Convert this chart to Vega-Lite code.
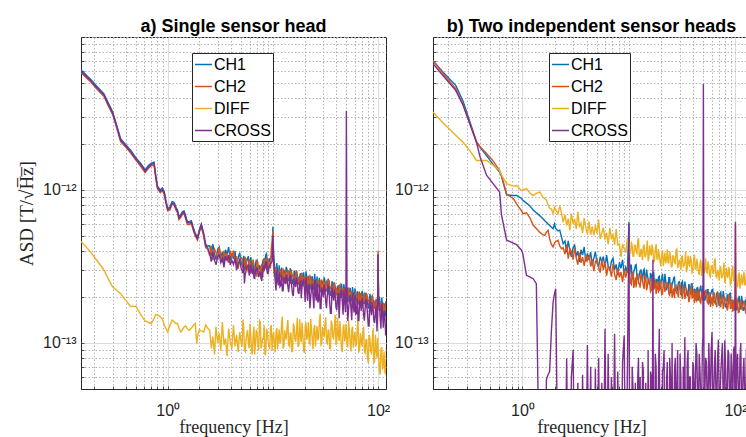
{
"$schema": "https://vega.github.io/schema/vega-lite/v6.json",
"background": "white",
"padding": {"left": 17, "top": 17, "right": 0, "bottom": 0},
"bounds": "flush",
"spacing": 47,
"config": {"view": {"stroke": "#262626", "strokeWidth": 1}, "font": "Liberation Sans"},
"resolve": {"scale": {"color": "independent"}, "legend": {"color": "independent"}},
"datasets": {
"a": [
{"f":0.15,"c1":61,"c2":58.5,"d":4.6,"x":59.8},
{"f":0.17,"c1":56,"c2":53.8,"d":4.2,"x":54.9},
{"f":0.185,"c1":53,"c2":50.9,"d":3.93,"x":51.9},
{"f":0.21,"c1":48,"c2":46.1,"d":3.5,"x":47},
{"f":0.248,"c1":42.5,"c2":40.8,"d":3.0,"x":41.7},
{"f":0.27,"c1":37.5,"c2":36,"d":2.65,"x":36.8},
{"f":0.3,"c1":32.4,"c2":31.1,"d":2.32,"x":31.8},
{"f":0.33,"c1":26,"c2":25,"d":2.2,"x":25.5},
{"f":0.357,"c1":21.6,"c2":20.7,"d":2.1,"x":21.2},
{"f":0.4,"c1":19.8,"c2":19,"d":1.9,"x":19.4},
{"f":0.444,"c1":18.2,"c2":17.5,"d":1.73,"x":17.8},
{"f":0.5,"c1":16.2,"c2":15.6,"d":1.74,"x":15.9},
{"f":0.55,"c1":15,"c2":14.4,"d":1.55,"x":14.7},
{"f":0.596,"c1":13.9,"c2":13.3,"d":1.42,"x":13.6},
{"f":0.61,"c1":13.5,"c2":13,"d":1.4,"x":13.2},
{"f":0.66,"c1":14.5,"c2":13.9,"d":1.36,"x":14.2},
{"f":0.7,"c1":15,"c2":14.4,"d":1.34,"x":14.7},
{"f":0.742,"c1":15.2,"c2":14.6,"d":1.45,"x":14.9},
{"f":0.77,"c1":12.5,"c2":12,"d":1.53,"x":12.3},
{"f":0.8,"c1":10.6,"c2":10.2,"d":1.53,"x":10.4},
{"f":0.85,"c1":10,"c2":9.6,"d":1.48,"x":9.8},
{"f":0.89,"c1":10.3,"c2":9.9,"d":1.44,"x":10.1},
{"f":0.93,"c1":9.7,"c2":9.3,"d":1.3,"x":9.5},
{"f":0.96,"c1":8.6,"c2":8.3,"d":1.25,"x":8.4},
{"f":1,"c1":7.6,"c2":7.3,"d":1.18,"x":7.45},
{"f":1.05,"c1":7.7,"c2":7.4,"d":1.3,"x":7.55},
{"f":1.1,"c1":8.4,"c2":8.1,"d":1.41,"x":8.2},
{"f":1.15,"c1":8.3,"c2":8,"d":1.38,"x":8.1},
{"f":1.2,"c1":7.7,"c2":7.4,"d":1.34,"x":7.55},
{"f":1.24,"c1":7.4,"c2":7.1,"d":1.34,"x":7.25},
{"f":1.28,"c1":6.7,"c2":6.4,"d":1.25,"x":6.55},
{"f":1.33,"c1":6.9,"c2":6.6,"d":1.18,"x":6.75},
{"f":1.38,"c1":7.2,"c2":6.9,"d":1.22,"x":7.05},
{"f":1.43,"c1":7.3,"c2":7,"d":1.27,"x":7.15},
{"f":1.48,"c1":6.8,"c2":6.5,"d":1.29,"x":6.65},
{"f":1.54,"c1":6.2,"c2":5.95,"d":1.24,"x":6.1},
{"f":1.6,"c1":6.2,"c2":5.95,"d":1.21,"x":6.1},
{"f":1.68,"c1":6.3,"c2":6.05,"d":1.25,"x":6.15},
{"f":1.75,"c1":5.7,"c2":5.45,"d":1.3,"x":5.6},
{"f":1.83,"c1":5.2,"c2":5,"d":1.34,"x":5.1},
{"f":1.89,"c1":5,"c2":4.8,"d":0.99,"x":4.9},
{"f":1.92,"c1":4.9,"c2":4.7,"d":1.1,"x":4.8},
{"f":2,"c1":5.5,"c2":5.3,"d":1.22,"x":5.4},
{"f":2.09,"c1":6,"c2":5.75,"d":1.2,"x":5.9},
{"f":2.2,"c1":5.2,"c2":5,"d":1.18,"x":5.1},
{"f":2.3,"c1":4.4,"c2":4.2,"d":1.31,"x":4.3},
{"f":2.4,"c1":4.3,"c2":4.1,"d":1.25,"x":4.2},
{"f":2.51,"c1":4.32,"c2":3.72,"d":1.21,"x":3.84},
{"f":2.6,"c1":3.72,"c2":4.31,"d":0.92,"x":3.4},
{"f":2.69,"c1":4.42,"c2":3.48,"d":1.1,"x":3.95},
{"f":2.79,"c1":3.83,"c2":4.1,"d":0.84,"x":3.48},
{"f":2.88,"c1":3.51,"c2":3.9,"d":1.28,"x":3.24},
{"f":2.99,"c1":4.1,"c2":3.52,"d":1.0,"x":3.67},
{"f":3.09,"c1":4.24,"c2":4.23,"d":1.16,"x":3.77},
{"f":3.2,"c1":3.62,"c2":3.66,"d":0.89,"x":3.35},
{"f":3.31,"c1":3.93,"c2":3.36,"d":1.37,"x":3.58},
{"f":3.43,"c1":3.34,"c2":4.02,"d":0.97,"x":3.12},
{"f":3.55,"c1":4.07,"c2":3.5,"d":1.07,"x":3.69},
{"f":3.67,"c1":3.76,"c2":3.87,"d":0.82,"x":3.46},
{"f":3.8,"c1":4.24,"c2":3.34,"d":1.24,"x":3.75},
{"f":3.94,"c1":3.45,"c2":4.01,"d":1.02,"x":3.23},
{"f":4.07,"c1":3.85,"c2":3.59,"d":0.91,"x":3.48},
{"f":4.22,"c1":3.55,"c2":4.02,"d":1.31,"x":3.26},
{"f":4.37,"c1":3.98,"c2":3.33,"d":0.95,"x":3.58},
{"f":4.52,"c1":3.2,"c2":3.7,"d":1.13,"x":2.99},
{"f":4.68,"c1":3.59,"c2":3.06,"d":0.87,"x":3.27},
{"f":4.84,"c1":3.89,"c2":3.53,"d":1.18,"x":3.47},
{"f":5.01,"c1":3.28,"c2":3.62,"d":0.99,"x":3.04},
{"f":5.19,"c1":3.09,"c2":3.2,"d":1.42,"x":2.86},
{"f":5.37,"c1":3.55,"c2":2.95,"d":0.9,"x":2.45},
{"f":5.56,"c1":3.3,"c2":3.56,"d":1.05,"x":2.97},
{"f":5.75,"c1":3.56,"c2":3.07,"d":1.21,"x":3.17},
{"f":5.96,"c1":3.02,"c2":3.5,"d":0.92,"x":2.76},
{"f":6.17,"c1":3.64,"c2":2.87,"d":1.1,"x":3.25},
{"f":6.38,"c1":3.1,"c2":3.32,"d":0.84,"x":2.82},
{"f":6.61,"c1":2.88,"c2":3.2,"d":1.28,"x":2.66},
{"f":6.84,"c1":3.31,"c2":2.84,"d":1.0,"x":2.96},
{"f":7.08,"c1":3.47,"c2":3.46,"d":1.16,"x":3.09},
{"f":7.33,"c1":2.91,"c2":2.95,"d":0.89,"x":2.7},
{"f":7.59,"c1":3.16,"c2":2.7,"d":1.37,"x":2.88},
{"f":7.85,"c1":2.73,"c2":3.28,"d":0.97,"x":2.54},
{"f":8.13,"c1":3.53,"c2":3.04,"d":1.07,"x":3.2},
{"f":8.41,"c1":3.37,"c2":3.47,"d":0.83,"x":3.09},
{"f":8.71,"c1":3.84,"c2":3.03,"d":1.24,"x":3.4},
{"f":9.02,"c1":3.04,"c2":3.52,"d":1.02,"x":2.84},
{"f":9.33,"c1":3.54,"c2":3.3,"d":0.91,"x":3.2},
{"f":9.66,"c1":3.65,"c2":4.13,"d":1.31,"x":3.34},
{"f":10,"c1":5.75,"c2":5.4,"d":1.1,"x":5.05},
{"f":10.35,"c1":3.27,"c2":2.73,"d":0.99,"x":2.94},
{"f":10.72,"c1":2.63,"c2":3.04,"d":1.19,"x":2.2},
{"f":11.09,"c1":2.93,"c2":2.5,"d":0.91,"x":2.58},
{"f":11.48,"c1":3.22,"c2":2.93,"d":1.23,"x":2.87},
{"f":11.89,"c1":2.71,"c2":2.99,"d":1.03,"x":2.37},
{"f":12.3,"c1":2.59,"c2":2.68,"d":1.49,"x":2.19},
{"f":12.74,"c1":2.97,"c2":2.47,"d":0.95,"x":2.66},
{"f":13.18,"c1":2.8,"c2":3.02,"d":1.1,"x":2.42},
{"f":13.65,"c1":3.02,"c2":2.61,"d":1.27,"x":2.67},
{"f":14.13,"c1":2.56,"c2":2.96,"d":0.97,"x":2.15},
{"f":14.62,"c1":3.08,"c2":2.43,"d":1.16,"x":2.78},
{"f":15.14,"c1":2.67,"c2":2.86,"d":0.88,"x":2.31},
{"f":15.67,"c1":2.43,"c2":2.7,"d":1.34,"x":2.03},
{"f":16.22,"c1":2.84,"c2":2.43,"d":1.05,"x":2.51},
{"f":16.79,"c1":2.97,"c2":2.96,"d":1.21,"x":2.66},
{"f":17.38,"c1":2.49,"c2":2.52,"d":0.94,"x":2.15},
{"f":17.99,"c1":2.7,"c2":2.31,"d":1.43,"x":2.39},
{"f":18.62,"c1":2.33,"c2":2.8,"d":1.01,"x":1.96},
{"f":19.28,"c1":2.78,"c2":2.4,"d":1.12,"x":2.52},
{"f":19.95,"c1":2.57,"c2":2.65,"d":0.86,"x":2.26},
{"f":20.65,"c1":2.94,"c2":2.32,"d":1.36,"x":2.68},
{"f":21.38,"c1":2.35,"c2":2.72,"d":1.12,"x":1.89},
{"f":22.13,"c1":2.65,"c2":2.47,"d":1.0,"x":2.3},
{"f":22.91,"c1":2.4,"c2":2.72,"d":1.44,"x":1.98},
{"f":23.71,"c1":2.73,"c2":2.28,"d":1.04,"x":2.45},
{"f":24.55,"c1":2.23,"c2":2.57,"d":1.24,"x":1.68},
{"f":25.41,"c1":2.47,"c2":2.11,"d":0.95,"x":2.11},
{"f":26.3,"c1":2.72,"c2":2.47,"d":1.29,"x":2.45},
{"f":27.23,"c1":2.33,"c2":2.57,"d":1.08,"x":1.91},
{"f":28.18,"c1":2.18,"c2":2.26,"d":1.55,"x":1.68},
{"f":29.17,"c1":2.54,"c2":2.12,"d":0.99,"x":2.26},
{"f":30.2,"c1":2.4,"c2":2.59,"d":1.15,"x":1.99},
{"f":31.26,"c1":2.54,"c2":2.19,"d":1.32,"x":2.23},
{"f":32.36,"c1":2.19,"c2":2.53,"d":1.01,"x":1.69},
{"f":33.5,"c1":2.63,"c2":2.07,"d":1.21,"x":2.4},
{"f":34.67,"c1":2.23,"c2":2.39,"d":0.92,"x":1.84},
{"f":35.89,"c1":2.07,"c2":2.3,"d":1.4,"x":1.56},
{"f":37.15,"c1":2.42,"c2":2.07,"d":1.09,"x":2.12},
{"f":38.46,"c1":2.48,"c2":2.47,"d":1.27,"x":2.23},
{"f":39.81,"c1":2.12,"c2":2.14,"d":0.98,"x":1.71},
{"f":41.21,"c1":2.3,"c2":1.96,"d":1.46,"x":1.98},
{"f":42.66,"c1":1.94,"c2":2.33,"d":1.03,"x":1.45},
{"f":44.16,"c1":2.35,"c2":2.03,"d":1.14,"x":2.13},
{"f":45.71,"c1":2.18,"c2":2.24,"d":0.87,"x":1.85},
{"f":47.32,"c1":2.43,"c2":1.92,"d":1.32,"x":2.21},
{"f":48.98,"c1":1.98,"c2":2.3,"d":1.09,"x":1.59},
{"f":50,"c1":2.3,"c2":2.2,"d":1.2,"x":33},
{"f":50.7,"c1":2.24,"c2":2.09,"d":0.97,"x":1.94},
{"f":52.48,"c1":2.02,"c2":2.28,"d":1.4,"x":1.66},
{"f":54.33,"c1":2.29,"c2":1.91,"d":1.01,"x":2.06},
{"f":56.23,"c1":1.87,"c2":2.16,"d":1.21,"x":1.41},
{"f":58.21,"c1":2.07,"c2":1.77,"d":0.93,"x":1.76},
{"f":60.26,"c1":2.28,"c2":2.07,"d":1.18,"x":2.05},
{"f":62.37,"c1":1.9,"c2":2.1,"d":0.99,"x":1.56},
{"f":64.57,"c1":1.82,"c2":1.88,"d":1.42,"x":1.4},
{"f":66.83,"c1":2.12,"c2":1.76,"d":0.9,"x":1.88},
{"f":69.18,"c1":1.95,"c2":2.1,"d":1.05,"x":1.62},
{"f":71.61,"c1":2.11,"c2":1.82,"d":1.15,"x":1.85},
{"f":74.13,"c1":1.81,"c2":2.1,"d":0.88,"x":1.4},
{"f":76.74,"c1":2.13,"c2":1.68,"d":1.05,"x":1.94},
{"f":79.43,"c1":1.84,"c2":1.97,"d":0.8,"x":1.52},
{"f":82.22,"c1":1.71,"c2":1.9,"d":1.13,"x":1.29},
{"f":85.11,"c1":1.94,"c2":1.67,"d":0.88,"x":1.7},
{"f":88.1,"c1":2.04,"c2":2.03,"d":1.02,"x":1.83},
{"f":91.2,"c1":1.74,"c2":1.76,"d":0.74,"x":1.41},
{"f":94.41,"c1":1.84,"c2":1.57,"d":1.13,"x":1.58},
{"f":97.72,"c1":1.58,"c2":1.91,"d":0.8,"x":1.19},
{"f":100,"c1":3.8,"c2":4.0,"d":0.9,"x":3.8},
{"f":101.2,"c1":1.93,"c2":1.66,"d":0.82,"x":1.75},
{"f":104.7,"c1":1.73,"c2":1.78,"d":0.62,"x":1.47},
{"f":108.4,"c1":1.98,"c2":1.56,"d":0.94,"x":1.8},
{"f":112.2,"c1":1.56,"c2":1.82,"d":0.72,"x":1.26},
{"f":116.1,"c1":1.77,"c2":1.65,"d":0.64,"x":1.53},
{"f":120.2,"c1":1.58,"c2":1.79,"d":0.93,"x":1.3},
{"f":5.1,"c1":3.28,"c2":3.58,"d":0.95,"x":2.97},
{"f":5.28,"c1":3.71,"c2":3.03,"d":1.26,"x":3.32},
{"f":5.46,"c1":3.02,"c2":3.61,"d":0.88,"x":2.8},
{"f":5.66,"c1":3.43,"c2":3.04,"d":1.16,"x":3.14},
{"f":5.85,"c1":3.7,"c2":2.88,"d":1.0,"x":3.27},
{"f":6.06,"c1":3.02,"c2":3.44,"d":1.34,"x":2.86},
{"f":6.28,"c1":3.19,"c2":3.06,"d":0.9,"x":2.99},
{"f":6.49,"c1":3.42,"c2":3.51,"d":1.1,"x":3.09},
{"f":6.72,"c1":2.85,"c2":3.17,"d":0.84,"x":2.64},
{"f":6.96,"c1":3.47,"c2":2.78,"d":1.22,"x":3.1},
{"f":7.2,"c1":3.02,"c2":3.36,"d":0.98,"x":2.82},
{"f":7.46,"c1":3.19,"c2":2.89,"d":1.4,"x":2.91},
{"f":7.72,"c1":2.82,"c2":3.16,"d":0.92,"x":2.64},
{"f":7.99,"c1":3.35,"c2":2.67,"d":1.07,"x":3.01},
{"f":8.27,"c1":3.1,"c2":3.59,"d":1.3,"x":3.0},
{"f":8.56,"c1":3.77,"c2":3.1,"d":0.86,"x":3.38},
{"f":8.86,"c1":3.13,"c2":3.57,"d":1.18,"x":2.86},
{"f":9.18,"c1":3.33,"c2":3.14,"d":0.96,"x":3.07},
{"f":9.49,"c1":3.6,"c2":3.07,"d":1.25,"x":3.26},
{"f":9.83,"c1":3.7,"c2":4.53,"d":0.89,"x":3.42},
{"f":10.17,"c1":3.78,"c2":3.18,"d":1.18,"x":3.37},
{"f":10.53,"c1":2.91,"c2":3.09,"d":0.87,"x":2.54},
{"f":10.91,"c1":3.33,"c2":2.72,"d":1.25,"x":2.99},
{"f":11.28,"c1":2.61,"c2":2.9,"d":1.06,"x":2.38},
{"f":11.68,"c1":2.76,"c2":3.01,"d":0.99,"x":2.33},
{"f":12.1,"c1":3.11,"c2":2.54,"d":1.32,"x":2.79},
{"f":12.51,"c1":2.57,"c2":3.07,"d":0.92,"x":2.19},
{"f":12.96,"c1":2.91,"c2":2.58,"d":1.21,"x":2.65},
{"f":13.41,"c1":3.14,"c2":2.44,"d":1.05,"x":2.8},
{"f":13.89,"c1":2.6,"c2":2.96,"d":1.41,"x":2.34},
{"f":14.38,"c1":2.7,"c2":2.59,"d":0.95,"x":2.46},
{"f":14.87,"c1":2.94,"c2":3.02,"d":1.16,"x":2.65},
{"f":15.4,"c1":2.45,"c2":2.72,"d":0.88,"x":2.08},
{"f":15.94,"c1":2.97,"c2":2.38,"d":1.28,"x":2.67},
{"f":16.5,"c1":2.59,"c2":2.88,"d":1.02,"x":2.32},
{"f":17.08,"c1":2.78,"c2":2.51,"d":1.46,"x":2.51},
{"f":17.68,"c1":2.41,"c2":2.7,"d":0.97,"x":2.09},
{"f":18.3,"c1":2.86,"c2":2.29,"d":1.12,"x":2.57},
{"f":18.94,"c1":2.49,"c2":2.88,"d":1.36,"x":2.33},
{"f":19.61,"c1":2.89,"c2":2.37,"d":0.9,"x":2.63},
{"f":20.3,"c1":2.39,"c2":2.73,"d":1.29,"x":1.85},
{"f":21.01,"c1":2.63,"c2":2.47,"d":1.05,"x":2.31},
{"f":21.75,"c1":2.7,"c2":2.3,"d":1.37,"x":2.42},
{"f":22.51,"c1":2.24,"c2":2.75,"d":0.98,"x":1.68},
{"f":23.31,"c1":2.63,"c2":2.21,"d":1.23,"x":2.3},
{"f":24.12,"c1":2.43,"c2":2.57,"d":0.91,"x":2.0},
{"f":24.98,"c1":2.83,"c2":2.3,"d":1.31,"x":2.58},
{"f":25.85,"c1":2.21,"c2":2.45,"d":1.1,"x":1.89},
{"f":26.76,"c1":2.33,"c2":2.55,"d":1.04,"x":1.84},
{"f":27.7,"c1":2.67,"c2":2.18,"d":1.38,"x":2.4},
{"f":28.67,"c1":2.16,"c2":2.59,"d":0.97,"x":1.68},
{"f":29.68,"c1":2.5,"c2":2.21,"d":1.27,"x":2.23},
{"f":30.73,"c1":2.69,"c2":2.09,"d":1.09,"x":2.42},
{"f":31.8,"c1":2.19,"c2":2.49,"d":1.47,"x":1.86},
{"f":32.92,"c1":2.3,"c2":2.21,"d":0.99,"x":2.04},
{"f":34.08,"c1":2.51,"c2":2.58,"d":1.21,"x":2.26},
{"f":35.27,"c1":2.05,"c2":2.28,"d":0.92,"x":1.56},
{"f":36.51,"c1":2.53,"c2":2.03,"d":1.33,"x":2.3},
{"f":37.8,"c1":2.21,"c2":2.46,"d":1.07,"x":1.89},
{"f":39.13,"c1":2.32,"c2":2.09,"d":1.53,"x":2.05},
{"f":40.5,"c1":2.05,"c2":2.29,"d":0.99,"x":1.64},
{"f":41.93,"c1":2.38,"c2":1.9,"d":1.14,"x":2.13},
{"f":43.4,"c1":2.07,"c2":2.39,"d":1.39,"x":1.87},
{"f":44.93,"c1":2.44,"c2":2.01,"d":0.92,"x":2.24},
{"f":46.51,"c1":1.98,"c2":2.25,"d":1.25,"x":1.53},
{"f":48.14,"c1":2.17,"c2":2.04,"d":1.02,"x":1.91},
{"f":49.5,"c1":2.28,"c2":1.94,"d":1.33,"x":2.04},
{"f":51.58,"c1":1.85,"c2":2.26,"d":0.95,"x":1.39},
{"f":53.39,"c1":2.21,"c2":1.85,"d":1.2,"x":1.93},
{"f":55.27,"c1":2.04,"c2":2.16,"d":0.88,"x":1.68},
{"f":57.21,"c1":2.32,"c2":1.89,"d":1.28,"x":2.11},
{"f":59.22,"c1":1.85,"c2":2.05,"d":1.08,"x":1.58},
{"f":61.31,"c1":1.95,"c2":2.13,"d":0.95,"x":1.54},
{"f":63.46,"c1":2.18,"c2":1.78,"d":1.26,"x":1.96},
{"f":65.69,"c1":1.8,"c2":2.16,"d":0.88,"x":1.4},
{"f":67.99,"c1":2.08,"c2":1.84,"d":1.16,"x":1.86},
{"f":70.38,"c1":2.18,"c2":1.7,"d":0.95,"x":1.97},
{"f":72.86,"c1":1.81,"c2":2.06,"d":1.28,"x":1.54},
{"f":75.42,"c1":1.91,"c2":1.83,"d":0.86,"x":1.7},
{"f":78.07,"c1":2.03,"c2":2.09,"d":1.05,"x":1.82},
{"f":80.81,"c1":1.69,"c2":1.88,"d":0.74,"x":1.29},
{"f":83.65,"c1":2.09,"c2":1.68,"d":1.08,"x":1.9},
{"f":86.59,"c1":1.78,"c2":1.98,"d":0.86,"x":1.52},
{"f":89.63,"c1":1.91,"c2":1.72,"d":1.24,"x":1.68},
{"f":92.79,"c1":1.68,"c2":1.89,"d":0.77,"x":1.35},
{"f":96.05,"c1":1.94,"c2":1.55,"d":0.89,"x":1.75},
{"f":99,"c1":1.69,"c2":1.96,"d":1.08,"x":1.53},
{"f":102.9,"c1":2.0,"c2":1.64,"d":0.66,"x":1.84},
{"f":106.5,"c1":1.61,"c2":1.84,"d":0.9,"x":1.24},
{"f":110.3,"c1":1.77,"c2":1.66,"d":0.67,"x":1.56},
{"f":114.1,"c1":1.8,"c2":1.53,"d":0.88,"x":1.62},
{"f":118.1,"c1":1.5,"c2":1.83,"d":0.63,"x":1.12}
],
"b": [
{"f":0.1445,"c1":70,"c2":70,"d":32.4,"x":67},
{"f":0.179,"c1":59,"c2":58,"d":27.5,"x":56},
{"f":0.236,"c1":48.3,"c2":46,"d":22.8,"x":44.8},
{"f":0.277,"c1":38,"c2":36,"d":20.5,"x":35.8},
{"f":0.332,"c1":26,"c2":25.5,"d":17.5,"x":25.2},
{"f":0.37,"c1":20.6,"c2":20.6,"d":15.6,"x":20.5},
{"f":0.4,"c1":19,"c2":19.2,"d":15.6,"x":16.4},
{"f":0.46,"c1":16.8,"c2":17.3,"d":15.6,"x":12.5},
{"f":0.53,"c1":14.7,"c2":15.5,"d":14.5,"x":11},
{"f":0.61,"c1":13.1,"c2":13.4,"d":13.4,"x":9.7},
{"f":0.635,"c1":12.3,"c2":12.5,"d":12.5,"x":6.9},
{"f":0.71,"c1":9.3,"c2":9.4,"d":11,"x":4.7},
{"f":0.82,"c1":9.2,"c2":8.8,"d":10.6,"x":4.5},
{"f":0.88,"c1":9.2,"c2":8.1,"d":10.7,"x":4.4},
{"f":0.98,"c1":8.8,"c2":7.3,"d":9.9,"x":4.04},
{"f":1.01,"c1":8.55,"c2":7,"d":10,"x":3.8},
{"f":1.09,"c1":8.2,"c2":7.1,"d":10.2,"x":2.77},
{"f":1.17,"c1":7.9,"c2":6.6,"d":9.6,"x":2.7},
{"f":1.26,"c1":7.4,"c2":5.9,"d":9.2,"x":2.63},
{"f":1.35,"c1":7.1,"c2":5.6,"d":9.5,"x":2.44},
{"f":1.45,"c1":6.8,"c2":5.3,"d":9.7,"x":0.1},
{"f":1.55,"c1":6.5,"c2":5.1,"d":9,"x":0.1},
{"f":1.62,"c1":6.3,"c2":5.05,"d":8.8,"x":0.1},
{"f":1.68,"c1":6.16,"c2":5.3,"d":8.55,"x":0.58},
{"f":1.74,"c1":6,"c2":5.45,"d":8,"x":0.62},
{"f":1.8,"c1":5.85,"c2":4.8,"d":7.6,"x":0.65},
{"f":1.87,"c1":5.7,"c2":4.4,"d":7.5,"x":1.2},
{"f":1.94,"c1":5.58,"c2":4.24,"d":7,"x":1.85},
{"f":2,"c1":6,"c2":4.5,"d":7.7,"x":2.1},
{"f":2.05,"c1":5.6,"c2":4.6,"d":7.4,"x":2.26},
{"f":2.16,"c1":5.4,"c2":4.69,"d":7,"x":0.1},
{"f":2.24,"c1":5.46,"c2":4.3,"d":7.9,"x":0.1},
{"f":2.33,"c1":4.9,"c2":4.13,"d":7,"x":0.1},
{"f":2.41,"c1":4.46,"c2":4.2,"d":6.16,"x":0.1},
{"f":2.51,"c1":4.64,"c2":3.8,"d":6.87,"x":0.1},
{"f":2.6,"c1":3.91,"c2":4.4,"d":5.86,"x":0.79},
{"f":2.69,"c1":4.65,"c2":3.56,"d":6.49,"x":0.1},
{"f":2.79,"c1":3.98,"c2":4.13,"d":5.46,"x":0.1},
{"f":2.88,"c1":3.65,"c2":3.93,"d":7.01,"x":0.6},
{"f":2.99,"c1":4.2,"c2":3.5,"d":6.01,"x":0.9},
{"f":3.09,"c1":4.35,"c2":4.2,"d":6.47,"x":0.1},
{"f":3.2,"c1":3.67,"c2":3.59,"d":5.55,"x":0.1},
{"f":3.31,"c1":3.98,"c2":3.25,"d":7.2,"x":0.55},
{"f":3.43,"c1":3.39,"c2":3.89,"d":5.7,"x":0.1},
{"f":3.55,"c1":4.07,"c2":3.34,"d":6.06,"x":0.1},
{"f":3.67,"c1":3.76,"c2":3.64,"d":5.22,"x":0.62},
{"f":3.8,"c1":4.24,"c2":3.19,"d":6.55,"x":0.1},
{"f":3.94,"c1":3.4,"c2":3.76,"d":5.68,"x":0.1},
{"f":4.07,"c1":3.85,"c2":3.42,"d":5.15,"x":0.97},
{"f":4.22,"c1":3.5,"c2":3.77,"d":6.21,"x":0.1},
{"f":4.37,"c1":3.92,"c2":3.16,"d":5.08,"x":0.7},
{"f":4.52,"c1":3.2,"c2":3.52,"d":5.78,"x":0.1},
{"f":4.68,"c1":3.59,"c2":2.95,"d":5.04,"x":0.1},
{"f":4.84,"c1":3.94,"c2":3.4,"d":5.89,"x":0.68},
{"f":5.01,"c1":3.33,"c2":3.53,"d":5.18,"x":0.1},
{"f":5.19,"c1":3.14,"c2":3.12,"d":6.41,"x":0.8},
{"f":5.37,"c1":3.66,"c2":2.88,"d":4.78,"x":0.1},
{"f":5.56,"c1":3.4,"c2":3.52,"d":5.2,"x":0.55},
{"f":5.75,"c1":3.67,"c2":2.99,"d":5.67,"x":0.1},
{"f":5.96,"c1":3.12,"c2":3.41,"d":4.74,"x":1.24},
{"f":6.17,"c1":3.75,"c2":2.75,"d":5.25,"x":0.1},
{"f":6.38,"c1":3.2,"c2":3.18,"d":4.4,"x":0.85},
{"f":6.61,"c1":2.97,"c2":3.06,"d":5.65,"x":0.1},
{"f":6.84,"c1":3.41,"c2":2.71,"d":4.75,"x":0.6},
{"f":7.08,"c1":3.58,"c2":3.3,"d":5.19,"x":0.1},
{"f":7.33,"c1":3.01,"c2":2.81,"d":4.37,"x":1.15},
{"f":7.59,"c1":3.26,"c2":2.58,"d":5.55,"x":0.1},
{"f":7.85,"c1":2.77,"c2":3.08,"d":4.37,"x":0.65},
{"f":8.13,"c1":3.37,"c2":2.68,"d":4.44,"x":0.1},
{"f":8.41,"c1":3.07,"c2":2.91,"d":3.65,"x":0.1},
{"f":8.71,"c1":3.5,"c2":2.5,"d":4.44,"x":0.75},
{"f":9.02,"c1":2.81,"c2":3,"d":4.12,"x":1.12},
{"f":9.33,"c1":3.12,"c2":2.67,"d":3.96,"x":0.1},
{"f":9.66,"c1":2.88,"c2":3,"d":4.83,"x":0.6},
{"f":10,"c1":6.2,"c2":3.5,"d":4.5,"x":6},
{"f":10.35,"c1":3.22,"c2":2.46,"d":3.85,"x":0.1},
{"f":10.72,"c1":2.63,"c2":2.78,"d":4.31,"x":0.7},
{"f":11.09,"c1":2.93,"c2":2.29,"d":3.69,"x":0.1},
{"f":11.48,"c1":3.22,"c2":2.68,"d":4.33,"x":0.55},
{"f":11.89,"c1":2.71,"c2":2.78,"d":3.84,"x":0.1},
{"f":12.3,"c1":2.59,"c2":2.45,"d":4.84,"x":0.8},
{"f":12.74,"c1":2.97,"c2":2.3,"d":3.68,"x":0.6},
{"f":13.18,"c1":2.8,"c2":2.75,"d":3.95,"x":0.1},
{"f":13.65,"c1":2.97,"c2":2.38,"d":4.31,"x":0.65},
{"f":14.13,"c1":2.56,"c2":2.75,"d":3.63,"x":0.1},
{"f":14.62,"c1":3.02,"c2":2.21,"d":4.02,"x":0.1},
{"f":15.14,"c1":2.62,"c2":2.6,"d":3.43,"x":0.9},
{"f":15.67,"c1":2.39,"c2":2.5,"d":4.35,"x":0.1},
{"f":16.22,"c1":2.78,"c2":2.21,"d":3.73,"x":0.6},
{"f":16.79,"c1":2.86,"c2":2.69,"d":4.03,"x":3.5},
{"f":17.38,"c1":2.44,"c2":2.33,"d":3.46,"x":0.1},
{"f":17.99,"c1":2.6,"c2":2.09,"d":4.43,"x":0.7},
{"f":18.62,"c1":2.24,"c2":2.54,"d":3.52,"x":0.1},
{"f":19.28,"c1":2.73,"c2":2.21,"d":3.74,"x":1.24},
{"f":19.95,"c1":2.48,"c2":2.39,"d":3.18,"x":0.1},
{"f":20.65,"c1":2.83,"c2":2.09,"d":4.05,"x":0.65},
{"f":21.38,"c1":2.3,"c2":2.51,"d":3.53,"x":0.9},
{"f":22.13,"c1":2.55,"c2":2.28,"d":3.31,"x":0.1},
{"f":22.91,"c1":2.35,"c2":2.5,"d":4.08,"x":0.75},
{"f":23.71,"c1":2.67,"c2":2.09,"d":3.34,"x":0.1},
{"f":24.55,"c1":2.14,"c2":2.36,"d":3.68,"x":0.6},
{"f":25.41,"c1":2.42,"c2":1.98,"d":3.15,"x":1.0},
{"f":26.3,"c1":2.66,"c2":2.27,"d":3.69,"x":0.1},
{"f":27.23,"c1":2.23,"c2":2.35,"d":3.31,"x":0.8},
{"f":28.18,"c1":2.14,"c2":2.11,"d":4.11,"x":0.55},
{"f":29.17,"c1":2.49,"c2":1.98,"d":3.13,"x":0.1},
{"f":30.2,"c1":2.3,"c2":2.37,"d":3.4,"x":0.85},
{"f":31.26,"c1":2.48,"c2":2.04,"d":3.65,"x":0.1},
{"f":32.36,"c1":2.14,"c2":2.37,"d":3.12,"x":0.7},
{"f":33.5,"c1":2.52,"c2":1.94,"d":3.4,"x":1.09},
{"f":34.67,"c1":2.18,"c2":2.23,"d":2.9,"x":0.1},
{"f":35.89,"c1":2.03,"c2":2.14,"d":3.73,"x":0.9},
{"f":37.15,"c1":2.31,"c2":1.93,"d":3.15,"x":0.6},
{"f":38.46,"c1":2.42,"c2":2.35,"d":3.45,"x":0.1},
{"f":39.81,"c1":2.07,"c2":2.04,"d":2.96,"x":0.75},
{"f":41.21,"c1":2.24,"c2":1.82,"d":3.78,"x":0.4},
{"f":42.66,"c1":1.89,"c2":2.21,"d":3.04,"x":1.0},
{"f":44.16,"c1":2.3,"c2":1.93,"d":3.23,"x":0.4},
{"f":45.71,"c1":2.13,"c2":2.13,"d":2.78,"x":0.85},
{"f":47.32,"c1":2.37,"c2":1.82,"d":3.5,"x":0.4},
{"f":48.98,"c1":1.93,"c2":2.18,"d":3.09,"x":0.95},
{"f":50,"c1":2.1,"c2":2,"d":3.1,"x":49.5},
{"f":50.7,"c1":2.18,"c2":1.98,"d":2.85,"x":0.4},
{"f":52.48,"c1":2.02,"c2":2.22,"d":3.57,"x":0.8},
{"f":54.33,"c1":2.23,"c2":1.86,"d":2.87,"x":0.4},
{"f":56.23,"c1":1.82,"c2":2.05,"d":3.2,"x":1.0},
{"f":58.21,"c1":2.07,"c2":1.72,"d":2.7,"x":0.4},
{"f":60.26,"c1":2.22,"c2":2.01,"d":3.21,"x":1.18},
{"f":62.37,"c1":1.9,"c2":2.09,"d":2.83,"x":0.4},
{"f":64.57,"c1":1.82,"c2":1.82,"d":3.57,"x":0.9},
{"f":66.83,"c1":2.12,"c2":1.71,"d":2.67,"x":0.4},
{"f":69.18,"c1":1.95,"c2":2.09,"d":2.9,"x":1.05},
{"f":71.61,"c1":2.11,"c2":1.81,"d":3.11,"x":0.4},
{"f":74.13,"c1":1.81,"c2":2.04,"d":2.65,"x":0.8},
{"f":76.74,"c1":2.18,"c2":1.67,"d":2.88,"x":0.4},
{"f":79.43,"c1":1.84,"c2":1.96,"d":2.46,"x":1.04},
{"f":82.22,"c1":1.71,"c2":1.89,"d":3.11,"x":0.4},
{"f":85.11,"c1":2,"c2":1.7,"d":2.67,"x":0.9},
{"f":88.1,"c1":2.09,"c2":2.02,"d":2.86,"x":0.4},
{"f":91.2,"c1":1.74,"c2":1.75,"d":2.46,"x":0.85},
{"f":94.41,"c1":1.89,"c2":1.6,"d":3.19,"x":0.4},
{"f":97.72,"c1":1.63,"c2":1.94,"d":2.52,"x":0.95},
{"f":100,"c1":1.9,"c2":6,"d":2.8,"x":6.2},
{"f":101.2,"c1":1.98,"c2":1.69,"d":2.68,"x":0.4},
{"f":104.7,"c1":1.78,"c2":1.82,"d":2.31,"x":0.85},
{"f":108.4,"c1":2.03,"c2":1.59,"d":2.89,"x":0.4},
{"f":112.2,"c1":1.66,"c2":1.91,"d":2.55,"x":1.0},
{"f":116.1,"c1":1.87,"c2":1.73,"d":2.39,"x":0.4},
{"f":120.2,"c1":1.68,"c2":1.89,"d":2.93,"x":0.8},
{"f":124.5,"c1":1.91,"c2":1.58,"d":2.4,"x":0.4},
{"f":128.8,"c1":1.56,"c2":1.79,"d":2.68,"x":0.9},
{"f":133.4,"c1":1.72,"c2":1.5,"d":2.25,"x":0.4},
{"f":138,"c1":1.89,"c2":1.7,"d":2.68,"x":0.75},
{"f":10.17,"c1":2.8,"c2":2.81,"d":3.85,"x":0.1},
{"f":10.53,"c1":3.22,"c2":2.41,"d":4.59,"x":0.1},
{"f":10.91,"c1":2.66,"c2":2.92,"d":3.69,"x":0.5},
{"f":11.28,"c1":3.02,"c2":2.44,"d":4.35,"x":0.1},
{"f":11.68,"c1":3.25,"c2":2.31,"d":3.93,"x":0.1},
{"f":12.1,"c1":2.65,"c2":2.81,"d":4.68,"x":0.6},
{"f":12.51,"c1":2.79,"c2":2.45,"d":3.68,"x":0.1},
{"f":12.96,"c1":3.0,"c2":2.86,"d":4.12,"x":0.1},
{"f":13.41,"c1":2.49,"c2":2.53,"d":3.48,"x":0.75},
{"f":13.89,"c1":3.03,"c2":2.25,"d":4.35,"x":0.1},
{"f":14.38,"c1":2.64,"c2":2.73,"d":3.74,"x":0.55},
{"f":14.87,"c1":2.78,"c2":2.33,"d":4.68,"x":0.1},
{"f":15.4,"c1":2.46,"c2":2.55,"d":3.63,"x":0.1},
{"f":15.94,"c1":2.86,"c2":2.16,"d":3.89,"x":0.65},
{"f":16.5,"c1":2.49,"c2":2.66,"d":4.39,"x":0.1},
{"f":17.08,"c1":2.89,"c2":2.23,"d":3.38,"x":0.1},
{"f":17.68,"c1":2.39,"c2":2.57,"d":4.07,"x":0.85},
{"f":18.3,"c1":2.58,"c2":2.28,"d":3.56,"x":0.1},
{"f":18.94,"c1":2.7,"c2":2.16,"d":4.11,"x":0.6},
{"f":19.61,"c1":2.24,"c2":2.59,"d":3.37,"x":0.1},
{"f":20.3,"c1":2.63,"c2":2.07,"d":3.8,"x":0.1},
{"f":21.01,"c1":2.43,"c2":2.42,"d":3.18,"x":0.7},
{"f":21.75,"c1":2.83,"c2":2.16,"d":3.89,"x":0.1},
{"f":22.51,"c1":2.21,"c2":2.35,"d":3.53,"x":0.55},
{"f":23.31,"c1":2.33,"c2":2.39,"d":3.34,"x":0.1},
{"f":24.12,"c1":2.67,"c2":2.05,"d":3.98,"x":0.8},
{"f":24.98,"c1":2.16,"c2":2.48,"d":3.15,"x":0.1},
{"f":25.85,"c1":2.5,"c2":2.12,"d":3.71,"x":0.1},
{"f":26.76,"c1":2.69,"c2":1.96,"d":3.35,"x":0.65},
{"f":27.7,"c1":2.19,"c2":2.38,"d":4.04,"x":0.1},
{"f":28.67,"c1":2.3,"c2":2.11,"d":3.13,"x":0.9},
{"f":29.68,"c1":2.51,"c2":2.46,"d":3.5,"x":0.1},
{"f":30.73,"c1":2.05,"c2":2.17,"d":2.99,"x":0.6},
{"f":31.8,"c1":2.53,"c2":1.94,"d":3.69,"x":0.1},
{"f":32.92,"c1":2.21,"c2":2.34,"d":3.22,"x":0.5},
{"f":34.08,"c1":2.32,"c2":2.04,"d":3.96,"x":0.1},
{"f":35.27,"c1":2.05,"c2":2.18,"d":3.07,"x":0.75},
{"f":36.51,"c1":2.43,"c2":1.85,"d":3.33,"x":0.1},
{"f":37.8,"c1":2.07,"c2":2.33,"d":3.71,"x":0.6},
{"f":39.13,"c1":2.44,"c2":1.95,"d":2.89,"x":0.1},
{"f":40.5,"c1":2.02,"c2":2.25,"d":3.48,"x":0.7},
{"f":41.93,"c1":2.22,"c2":1.99,"d":3.04,"x":0.45},
{"f":43.4,"c1":2.28,"c2":1.89,"d":3.55,"x":0.85},
{"f":44.93,"c1":1.89,"c2":2.26,"d":2.91,"x":0.4},
{"f":46.51,"c1":2.26,"c2":1.85,"d":3.33,"x":0.65},
{"f":48.14,"c1":2.04,"c2":2.1,"d":2.74,"x":0.4},
{"f":49.5,"c1":2.37,"c2":1.88,"d":3.4,"x":1.1},
{"f":51.58,"c1":1.89,"c2":2.04,"d":3.04,"x":0.45},
{"f":53.39,"c1":2.0,"c2":2.12,"d":2.91,"x":0.75},
{"f":55.27,"c1":2.23,"c2":1.82,"d":3.42,"x":0.4},
{"f":57.21,"c1":1.85,"c2":2.15,"d":2.75,"x":0.6},
{"f":59.22,"c1":2.13,"c2":1.83,"d":3.18,"x":0.9},
{"f":61.31,"c1":2.24,"c2":1.74,"d":2.91,"x":0.4},
{"f":63.46,"c1":1.86,"c2":2.11,"d":3.45,"x":0.7},
{"f":65.69,"c1":1.96,"c2":1.82,"d":2.71,"x":0.45},
{"f":67.99,"c1":2.14,"c2":2.13,"d":2.99,"x":0.8},
{"f":70.38,"c1":1.74,"c2":1.92,"d":2.55,"x":0.4},
{"f":72.86,"c1":2.15,"c2":1.71,"d":3.14,"x":0.65},
{"f":75.42,"c1":1.87,"c2":2.02,"d":2.74,"x":1.0},
{"f":78.07,"c1":2.01,"c2":1.76,"d":3.36,"x":0.4},
{"f":80.81,"c1":1.73,"c2":1.92,"d":2.6,"x":0.7},
{"f":83.65,"c1":2.05,"c2":1.63,"d":2.78,"x":0.45},
{"f":86.59,"c1":1.79,"c2":2.05,"d":3.14,"x":0.85},
{"f":89.63,"c1":2.11,"c2":1.67,"d":2.4,"x":0.4},
{"f":92.79,"c1":1.7,"c2":1.93,"d":2.89,"x":0.6},
{"f":96.05,"c1":1.87,"c2":1.75,"d":2.57,"x":0.9},
{"f":99,"c1":1.96,"c2":1.66,"d":2.94,"x":0.4},
{"f":102.9,"c1":1.63,"c2":1.98,"d":2.41,"x":0.7},
{"f":106.5,"c1":1.89,"c2":1.58,"d":2.76,"x":0.45},
{"f":110.3,"c1":1.75,"c2":1.84,"d":2.26,"x":0.8},
{"f":114.1,"c1":2.03,"c2":1.65,"d":2.81,"x":0.4},
{"f":118.1,"c1":1.62,"c2":1.79,"d":2.55,"x":0.65},
{"f":122.3,"c1":1.66,"c2":1.8,"d":2.4,"x":0.4},
{"f":126.7,"c1":1.91,"c2":1.55,"d":2.86,"x":0.9},
{"f":131.1,"c1":1.58,"c2":1.87,"d":2.3,"x":0.4},
{"f":135.7,"c1":1.77,"c2":1.6,"d":2.65,"x":0.7}
]
},
"hconcat": [
{
"title": {"text": "a) Single sensor head", "fontSize": 18, "fontWeight": "bold", "font": "Liberation Sans", "color": "black", "offset": -7},
"width": 305, "height": 352,
"data": {"name": "a"},
"encoding": {"x": {"field": "f", "type": "quantitative", "scale": {"type": "log", "domain": [0.15, 119], "nice": false},
  "axis": {"title": "frequency [Hz]", "values": [0.2,0.3,0.4,0.5,0.6,0.7,0.8,0.9,1,2,3,4,5,6,7,8,9,10,20,30,40,50,60,70,80,90,100],
   "labelExpr": "datum.value == 1 ? '10⁰' : datum.value == 100 ? '10²' : ''",
   "labelOverlap": false, "labelFlush": false, "labelBound": false,
   "labelFont": "Liberation Sans", "labelFontSize": 16, "labelColor": "#262626", "labelPadding": 16,
   "tickSize": -3, "tickColor": "#262626", "tickWidth": 0.8, "domainColor": "#262626",
   "grid": true,
   "gridColor": {"condition": {"test": "datum.value == 1 || datum.value == 100", "value": "#dcdcdc"}, "value": "#b4b4b4"},
   "gridDash": {"condition": {"test": "datum.value == 1 || datum.value == 100", "value": []}, "value": [1.5, 2]},
   "titleFont": "Liberation Serif", "titleFontSize": 18, "titleFontWeight": "normal", "titleColor": "#262626", "titlePadding": 0}}},
"layer": [
{"mark": {"type": "line", "strokeWidth": 1.4, "clip": true},
 "encoding": {"y": {"field": "c1", "type": "quantitative", "scale": {"type": "log", "domain": [0.5, 100], "nice": false},
   "axis": {"title": "ASD [T/√H̅z̅]", "values": [0.5,0.6,0.7,0.8,0.9,1,2,3,4,5,6,7,8,9,10,20,30,40,50,60,70,80,90,100],
    "labelExpr": "datum.value == 1 ? '10⁻¹³' : datum.value == 10 ? '10⁻¹²' : ''",
    "labelOverlap": false, "labelFlush": false, "labelBound": false,
    "labelFont": "Liberation Sans", "labelFontSize": 16, "labelColor": "#262626", "labelPadding": 8,
    "tickSize": -3, "tickColor": "#262626", "tickWidth": 0.8, "domainColor": "#262626",
    "grid": true,
    "gridColor": {"condition": {"test": "datum.value == 1 || datum.value == 10", "value": "#dcdcdc"}, "value": "#b4b4b4"},
    "gridDash": {"condition": {"test": "datum.value == 1 || datum.value == 10", "value": []}, "value": [1.5, 2]},
    "titleFont": "Liberation Serif", "titleFontSize": 19, "titleFontWeight": "normal", "titleColor": "#262626", "titlePadding": 6}},
  "color": {"datum": "CH1", "type": "nominal",
   "scale": {"domain": ["CH1","CH2","DIFF","CROSS"], "range": ["#0072BD","#D95319","#EDB120","#7E2F8E"]},
   "legend": {"orient": "none", "legendX": 111, "legendY": 16, "title": null, "symbolType": "stroke", "symbolSize": 290, "symbolStrokeWidth": 1.5,
    "labelFont": "Liberation Sans", "labelFontSize": 16, "labelColor": "black", "labelOffset": 1, "strokeColor": "#262626", "fillColor": "white", "padding": 2, "rowPadding": 4}}}},
{"mark": {"type": "line", "strokeWidth": 1.4, "clip": true},
 "encoding": {"y": {"field": "c2", "type": "quantitative", "scale": {"type": "log", "domain": [0.5, 100], "nice": false}}, "color": {"datum": "CH2"}}},
{"mark": {"type": "line", "strokeWidth": 1.4, "clip": true},
 "encoding": {"y": {"field": "d", "type": "quantitative", "scale": {"type": "log", "domain": [0.5, 100], "nice": false}}, "color": {"datum": "DIFF"}}},
{"mark": {"type": "line", "strokeWidth": 1.4, "clip": true},
 "encoding": {"y": {"field": "x", "type": "quantitative", "scale": {"type": "log", "domain": [0.5, 100], "nice": false}}, "color": {"datum": "CROSS"}}}
]
},
{
"title": {"text": "b) Two independent sensor heads", "fontSize": 18, "fontWeight": "bold", "font": "Liberation Sans", "color": "black", "offset": -7},
"width": 317, "height": 352,
"data": {"name": "b"},
"encoding": {"x": {"field": "f", "type": "quantitative", "scale": {"type": "log", "domain": [0.1445, 137], "nice": false},
  "axis": {"title": "frequency [Hz]", "values": [0.2,0.3,0.4,0.5,0.6,0.7,0.8,0.9,1,2,3,4,5,6,7,8,9,10,20,30,40,50,60,70,80,90,100],
   "labelExpr": "datum.value == 1 ? '10⁰' : datum.value == 100 ? '10²' : ''",
   "labelOverlap": false, "labelFlush": false, "labelBound": false,
   "labelFont": "Liberation Sans", "labelFontSize": 16, "labelColor": "#262626", "labelPadding": 16,
   "tickSize": -3, "tickColor": "#262626", "tickWidth": 0.8, "domainColor": "#262626",
   "grid": true,
   "gridColor": {"condition": {"test": "datum.value == 1 || datum.value == 100", "value": "#dcdcdc"}, "value": "#b4b4b4"},
   "gridDash": {"condition": {"test": "datum.value == 1 || datum.value == 100", "value": []}, "value": [1.5, 2]},
   "titleFont": "Liberation Serif", "titleFontSize": 18, "titleFontWeight": "normal", "titleColor": "#262626", "titlePadding": 0}}},
"layer": [
{"mark": {"type": "line", "strokeWidth": 1.4, "clip": true},
 "encoding": {"y": {"field": "c1", "type": "quantitative", "scale": {"type": "log", "domain": [0.5, 100], "nice": false},
   "axis": {"title": null, "values": [0.5,0.6,0.7,0.8,0.9,1,2,3,4,5,6,7,8,9,10,20,30,40,50,60,70,80,90,100],
    "labelExpr": "datum.value == 1 ? '10⁻¹³' : datum.value == 10 ? '10⁻¹²' : ''",
    "labelOverlap": false, "labelFlush": false, "labelBound": false,
    "labelFont": "Liberation Sans", "labelFontSize": 16, "labelColor": "#262626", "labelPadding": 8,
    "tickSize": -3, "tickColor": "#262626", "tickWidth": 0.8, "domainColor": "#262626",
    "grid": true,
    "gridColor": {"condition": {"test": "datum.value == 1 || datum.value == 10", "value": "#dcdcdc"}, "value": "#b4b4b4"},
    "gridDash": {"condition": {"test": "datum.value == 1 || datum.value == 10", "value": []}, "value": [1.5, 2]}}},
  "color": {"datum": "CH1", "type": "nominal",
   "scale": {"domain": ["CH1","CH2","DIFF","CROSS"], "range": ["#0072BD","#D95319","#EDB120","#7E2F8E"]},
   "legend": {"orient": "none", "legendX": 116, "legendY": 16, "title": null, "symbolType": "stroke", "symbolSize": 290, "symbolStrokeWidth": 1.5,
    "labelFont": "Liberation Sans", "labelFontSize": 16, "labelColor": "black", "labelOffset": 1, "strokeColor": "#262626", "fillColor": "white", "padding": 2, "rowPadding": 4}}}},
{"mark": {"type": "line", "strokeWidth": 1.4, "clip": true},
 "encoding": {"y": {"field": "c2", "type": "quantitative", "scale": {"type": "log", "domain": [0.5, 100], "nice": false}}, "color": {"datum": "CH2"}}},
{"mark": {"type": "line", "strokeWidth": 1.4, "clip": true},
 "encoding": {"y": {"field": "d", "type": "quantitative", "scale": {"type": "log", "domain": [0.5, 100], "nice": false}}, "color": {"datum": "DIFF"}}},
{"mark": {"type": "line", "strokeWidth": 1.4, "clip": true},
 "encoding": {"y": {"field": "x", "type": "quantitative", "scale": {"type": "log", "domain": [0.5, 100], "nice": false}}, "color": {"datum": "CROSS"}}}
]
}
]
}
